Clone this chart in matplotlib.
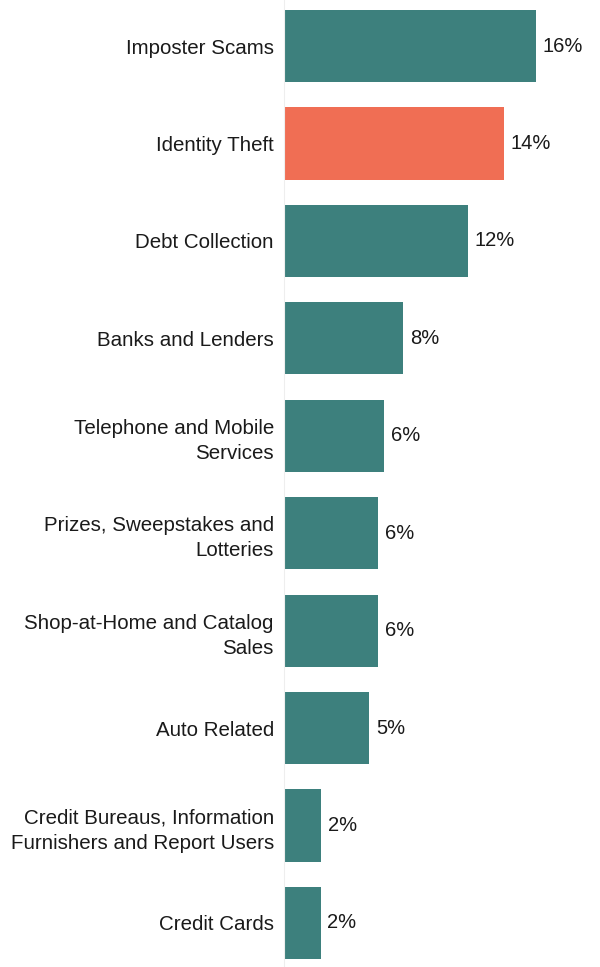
import matplotlib.pyplot as plt

# Data
categories = [
    "Imposter Scams",
    "Identity Theft",
    "Debt Collection",
    "Banks and Lenders",
    "Telephone and Mobile\nServices",
    "Prizes, Sweepstakes and\nLotteries",
    "Shop-at-Home and Catalog\nSales",
    "Auto Related",
    "Credit Bureaus, Information\nFurnishers and Report Users",
    "Credit Cards",
]
shares = [16.0, 14.0, 11.7, 7.6, 6.4, 6.0, 6.0, 5.45, 2.4, 2.35]
share_labels = ["16%", "14%", "12%", "8%", "6%", "6%", "6%", "5%", "2%", "2%"]
highlight = "Identity Theft"

plt.rcParams['font.family'] = ['Liberation Sans', 'DejaVu Sans']

teal = "#3D807D"
orange = "#F06E54"
colors = [orange if c == highlight else teal for c in categories]

fig = plt.figure(figsize=(6, 9.67), dpi=100)
ax = fig.add_axes([283.5 / 600, -4.7 / 967, 316.5 / 600, 974.4 / 967])

y = list(range(len(categories)))
ax.barh(y, shares, height=0.74, color=colors, zorder=2)
ax.set_ylim(len(categories) - 0.5, -0.5)
ax.set_xlim(0, 316.5 / 15.75)

# value labels just past the end of each bar
for yi, v, lab in zip(y, shares, share_labels):
    ax.text(v + 0.42, yi, lab, va="center", ha="left", fontsize=14.5, color="#1a1a1a")

ax.set_yticks(y)
ax.set_yticklabels(categories, fontsize=14.8, color="#1a1a1a", linespacing=1.4)
ax.tick_params(axis="y", length=0, pad=7)
ax.set_xticks([])
for s in ["top", "right", "bottom"]:
    ax.spines[s].set_visible(False)
ax.spines["left"].set_color("#eeeeee")
ax.spines["left"].set_linewidth(0.8)

fig.savefig("out.png", dpi=100)
